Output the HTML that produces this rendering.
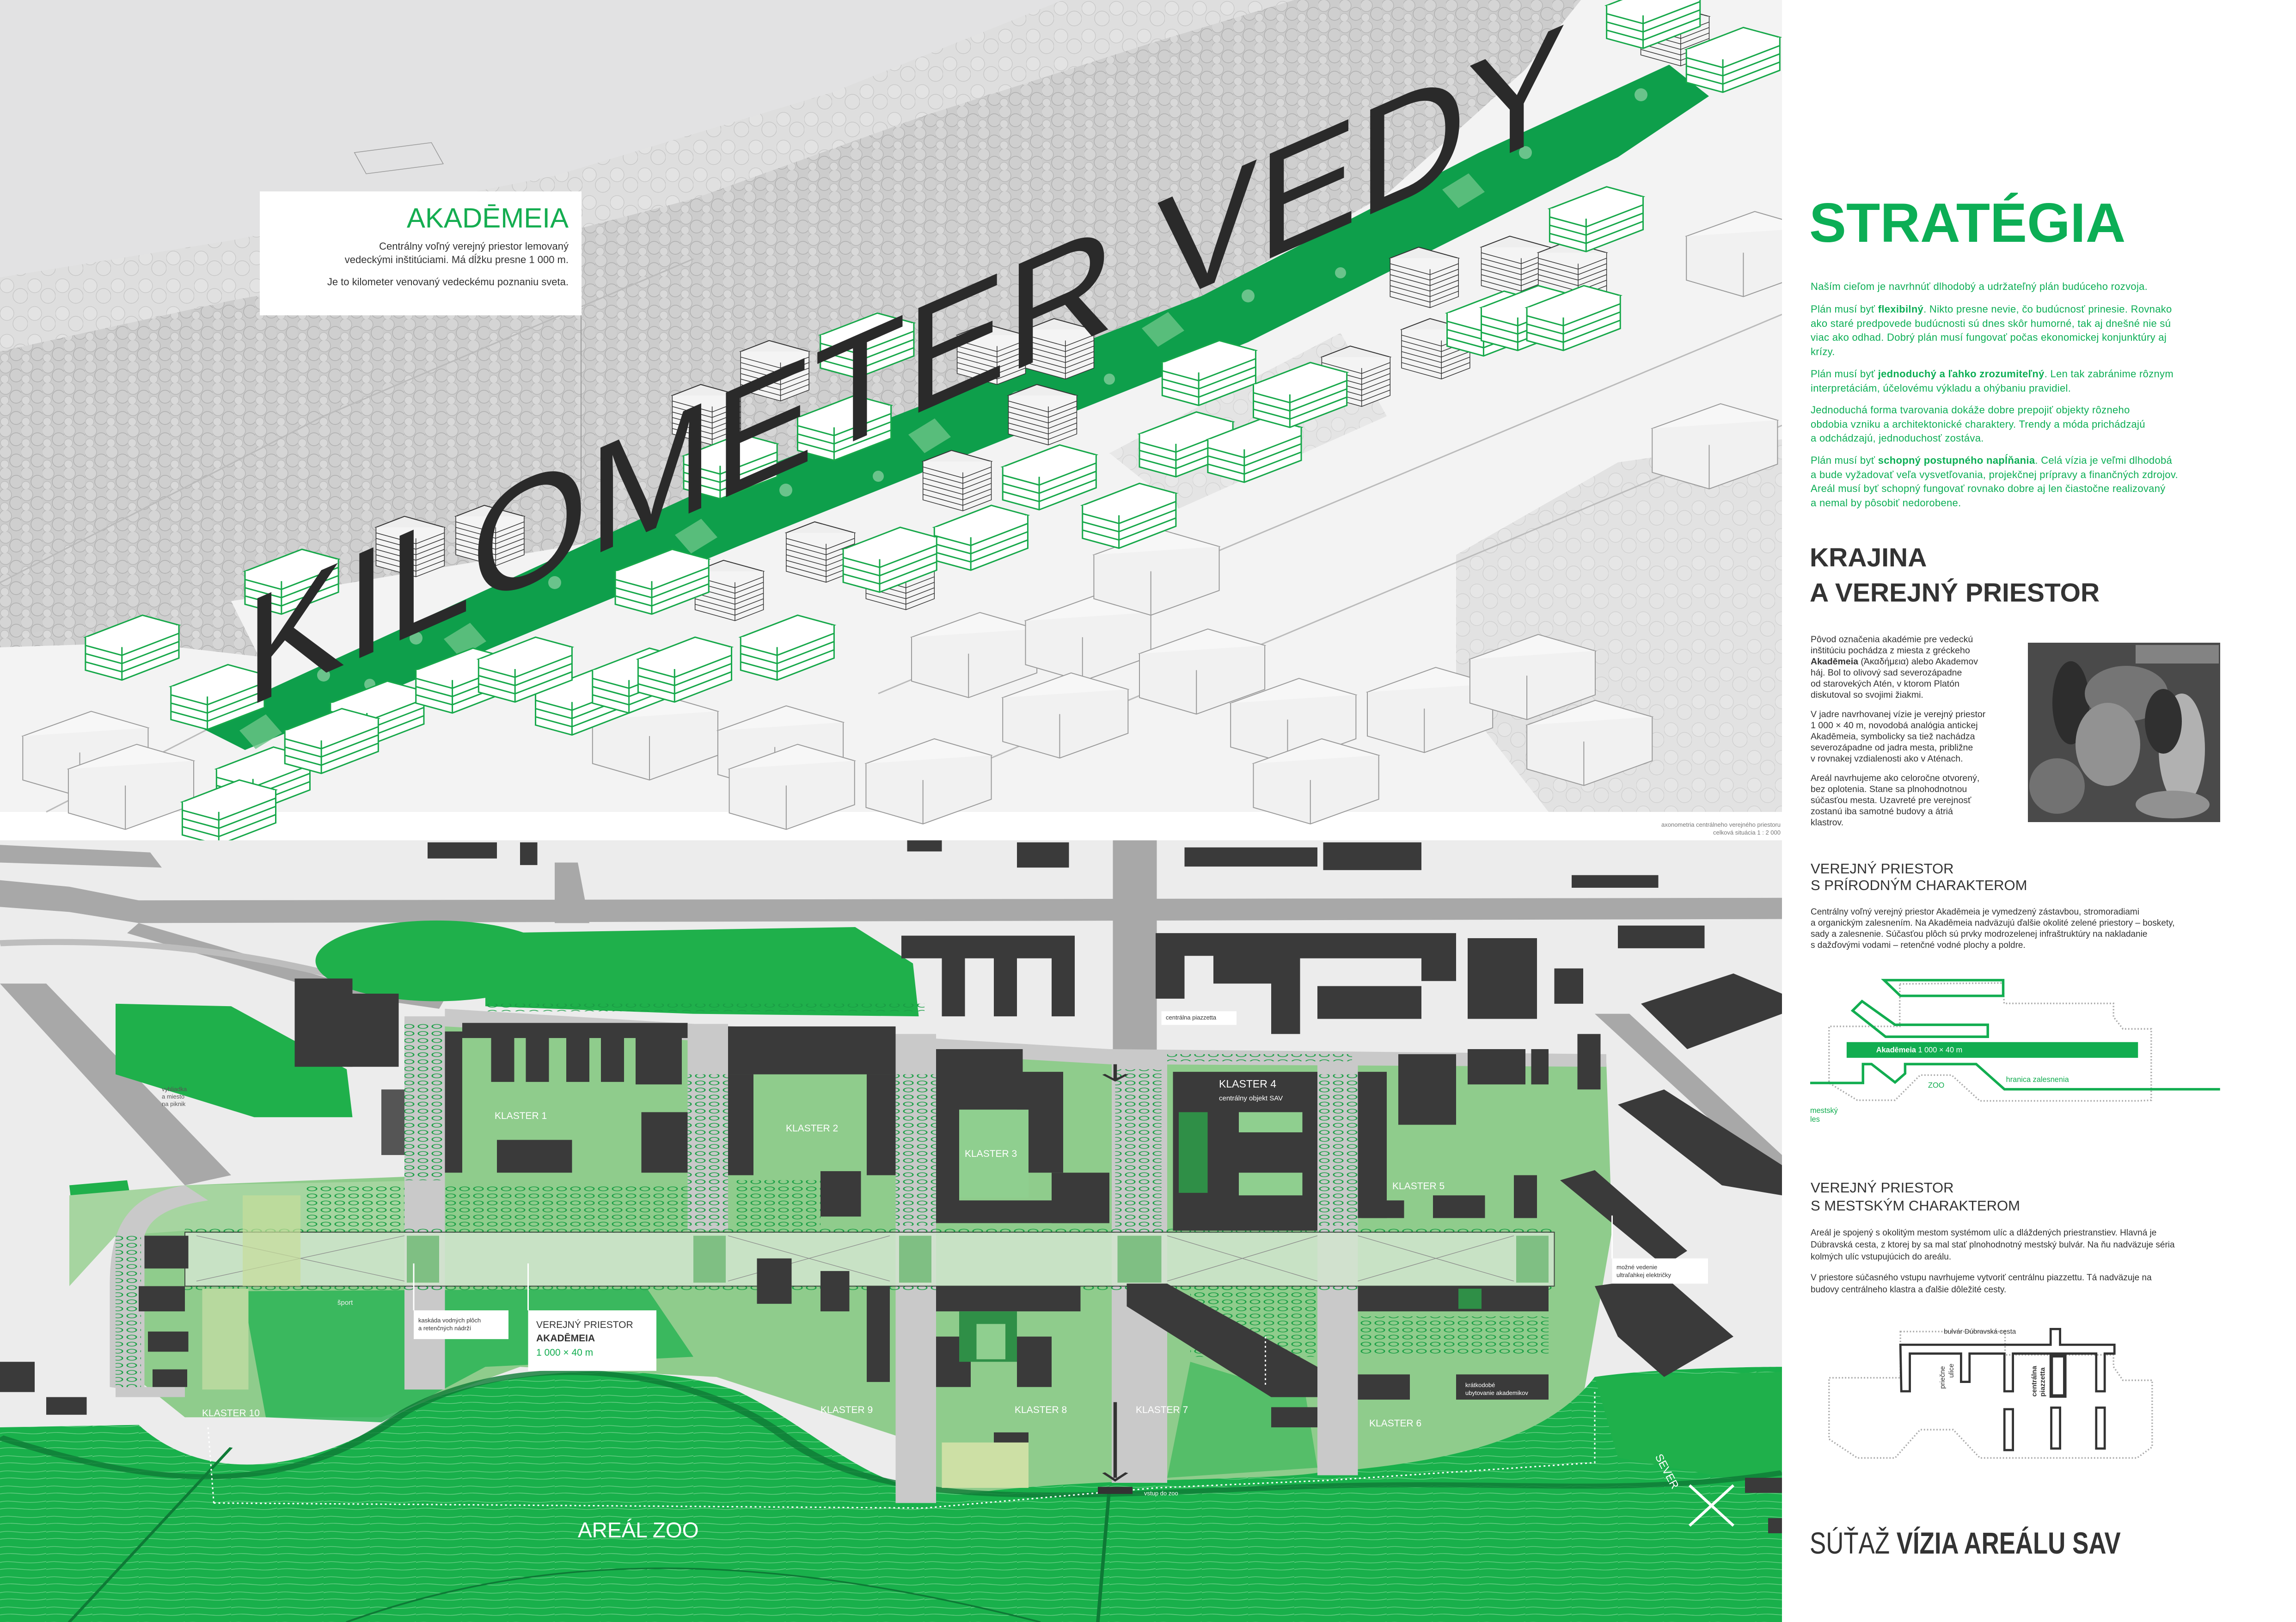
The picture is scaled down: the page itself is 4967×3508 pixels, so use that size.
<!DOCTYPE html>
<html><head><meta charset="utf-8">
<style>
*{margin:0;padding:0;box-sizing:border-box}
body{width:4967px;height:3508px;position:relative;background:#fff;font-family:"Liberation Sans",sans-serif;overflow:hidden}
.a{position:absolute;white-space:nowrap}
.g{color:#0cae55}
.sb{font-size:22px;line-height:30.5px;letter-spacing:0.3px}
.kb{font-size:19.5px;line-height:24px;color:#333}
.mb{font-size:19px;line-height:24px;color:#333}
svg{position:absolute;left:0;top:0}
</style></head><body>

<svg width="4967" height="3508" viewBox="0 0 4967 3508">
<defs>
<pattern id="fr" width="46" height="46" patternUnits="userSpaceOnUse">
<rect width="46" height="46" fill="#c9c9c9"/>
<circle cx="12" cy="12" r="13" fill="#d3d3d3" stroke="#b2b2b2" stroke-width="1.5"/>
<circle cx="35" cy="30" r="14" fill="#cdcdcd" stroke="#a9a9a9" stroke-width="1.5"/>
<circle cx="10" cy="38" r="9" fill="#d8d8d8" stroke="#b5b5b5" stroke-width="1.2"/>
</pattern>
<pattern id="fr2" width="60" height="60" patternUnits="userSpaceOnUse">
<rect width="60" height="60" fill="#dedede"/>
<circle cx="15" cy="18" r="15" fill="#e3e3e3" stroke="#c6c6c6" stroke-width="1.2"/>
<circle cx="44" cy="40" r="16" fill="#e0e0e0" stroke="#c3c3c3" stroke-width="1.2"/>
</pattern>
<pattern id="tc" width="12" height="14" patternUnits="userSpaceOnUse">
<circle cx="6" cy="7" r="4" fill="none" stroke="#1a9e45" stroke-width="1.2"/>
</pattern>
<pattern id="ct" width="40" height="30" patternUnits="userSpaceOnUse">
<rect width="40" height="30" fill="#19b04b"/>
<path d="M0,8 C10,2 20,14 40,6 M0,22 C14,16 26,28 40,20" stroke="#6fd08a" stroke-width="1.2" fill="none"/>
</pattern>
<symbol id="gb" overflow="visible">
<path d="M0,0 L50,-40 L82,-22 L32,18 Z" fill="#fff" stroke="#17a84a" stroke-width="3" vector-effect="non-scaling-stroke"/>
<path d="M0,0 V60 L32,78 L82,38 V-22 M32,18 V78 M0,15 L32,33 L82,-7 M0,30 L32,48 L82,8 M0,45 L32,63 L82,23" fill="#fff" stroke="#17a84a" stroke-width="3" vector-effect="non-scaling-stroke"/>
</symbol>
<symbol id="wb" overflow="visible">
<path d="M0,0 L60,-45 L110,-15 L50,30 Z" fill="#f7f7f7" stroke="#9a9a9a" stroke-width="2" vector-effect="non-scaling-stroke"/>
<path d="M0,0 V80 L50,110 L110,65 V-15 M50,30 V110" fill="#f1f1f1" stroke="#9a9a9a" stroke-width="2" vector-effect="non-scaling-stroke"/>
</symbol>
<symbol id="bb" overflow="visible">
<path d="M0,0 L25,-20 L60,0 L35,20 Z" fill="#eee" stroke="#333" stroke-width="2" vector-effect="non-scaling-stroke"/>
<path d="M0,0 V70 L35,90 L60,70 V0 M35,20 V90 M0,10 L35,30 L60,10 M0,20 L35,40 L60,20 M0,30 L35,50 L60,30 M0,40 L35,60 L60,40 M0,50 L35,70 L60,50 M0,60 L35,80 L60,60" fill="#f4f4f4" stroke="#333" stroke-width="1.5" vector-effect="non-scaling-stroke"/>
</symbol>
</defs>

<!-- ============ TOP AXONOMETRY ============ -->
<rect x="0" y="0" width="3855" height="1756" fill="#f3f3f3"/>
<polygon points="0,0 3420,0 3300,150 3000,420 2500,700 1900,1000 1300,1170 700,1260 300,1330 0,1380" fill="#e2e2e3"/>
<polygon points="0,760 500,650 1000,560 1500,430 2000,250 2500,90 2800,0 3420,0 3300,150 3000,420 2500,700 1900,1000 1300,1170 700,1270 500,1300 560,1420 300,1390 0,1400" fill="url(#fr)" opacity="0.9"/>
<polygon points="0,760 500,650 1000,560 1500,430 2000,250 2500,90 2800,0 2300,0 1800,200 1200,380 500,520 0,600" fill="url(#fr2)"/>
<polygon points="3150,1200 3500,1000 3855,950 3855,1756 3350,1756 3150,1500" fill="url(#fr2)" opacity="0.8"/>
<polygon points="2400,980 2900,720 3000,900 2550,1100" fill="url(#fr2)" opacity="0.7"/>
<path d="M0,1260 L700,900 L1500,560 M1900,1500 L3855,680 M2000,1700 L3855,920 M100,1756 L600,1500" stroke="#bbb" stroke-width="3" fill="none"/>
<polygon points="419,1566 1500,1070 2600,640 3200,330 3611,140 3697,208 3500,340 2700,740 1600,1180 530,1622" fill="#0e9f4b"/>
<g fill="#6cc487" opacity="0.8">
<polygon points="518,1580 575,1545 610,1585 553,1620"/>
<polygon points="960,1382 1017,1347 1052,1387 995,1422"/>
<polygon points="1460,1157 1517,1122 1552,1162 1495,1197"/>
<polygon points="1965,940 2022,905 2057,945 2000,980"/>
<polygon points="2470,710 2527,675 2562,715 2505,750"/>
<polygon points="3120,410 3177,375 3212,415 3155,450"/>
</g>
<g fill="#a8dcb6" opacity="0.6">
<circle cx="700" cy="1460" r="14"/><circle cx="900" cy="1380" r="14"/><circle cx="1200" cy="1260" r="14"/><circle cx="1700" cy="1060" r="14"/><circle cx="2200" cy="860" r="14"/><circle cx="2700" cy="640" r="14"/><circle cx="3300" cy="330" r="14"/><circle cx="3550" cy="205" r="14"/>
<circle cx="800" cy="1480" r="12"/><circle cx="1400" cy="1230" r="12"/><circle cx="1900" cy="1030" r="12"/><circle cx="2400" cy="820" r="12"/><circle cx="2900" cy="590" r="12"/>
</g>
<g transform="matrix(2.465,0,0,1.188,0,0)">
<use href="#wb" x="520" y="1310"/><use href="#wb" x="630" y="1330"/><use href="#wb" x="800" y="1160"/><use href="#wb" x="900" y="1130"/><use href="#wb" x="1000" y="1190"/><use href="#wb" x="1080" y="1280"/><use href="#wb" x="1200" y="1260"/><use href="#wb" x="1290" y="1200"/><use href="#wb" x="1340" y="1320"/><use href="#wb" x="640" y="1400"/><use href="#wb" x="760" y="1390"/><use href="#wb" x="1100" y="1390"/><use href="#wb" x="880" y="1270"/><use href="#wb" x="960" y="1010"/><use href="#wb" x="1450" y="780"/><use href="#wb" x="20" y="1340"/><use href="#wb" x="60" y="1400"/><use href="#wb" x="1480" y="430"/>
<use href="#bb" x="650" y="640"/><use href="#bb" x="590" y="720"/><use href="#bb" x="840" y="610"/><use href="#bb" x="900" y="600"/><use href="#bb" x="1220" y="470"/><use href="#bb" x="1300" y="450"/><use href="#bb" x="1160" y="650"/><use href="#bb" x="1230" y="600"/><use href="#bb" x="1350" y="460"/><use href="#bb" x="885" y="720"/><use href="#bb" x="810" y="840"/><use href="#bb" x="610" y="1040"/><use href="#bb" x="690" y="970"/><use href="#bb" x="760" y="1020"/><use href="#bb" x="1440" y="30"/><use href="#bb" x="330" y="960"/><use href="#bb" x="400" y="940"/>
<use href="#gb" x="75" y="1160"/><use href="#gb" x="150" y="1250"/><use href="#gb" x="215" y="1040"/><use href="#gb" x="290" y="1280"/><use href="#gb" x="365" y="1220"/><use href="#gb" x="470" y="1260"/><use href="#gb" x="520" y="1220"/><use href="#gb" x="190" y="1400"/><use href="#gb" x="250" y="1330"/><use href="#gb" x="600" y="830"/><use href="#gb" x="720" y="610"/><use href="#gb" x="700" y="760"/><use href="#gb" x="880" y="850"/><use href="#gb" x="950" y="920"/><use href="#gb" x="820" y="960"/><use href="#gb" x="1000" y="790"/><use href="#gb" x="1020" y="660"/><use href="#gb" x="1060" y="800"/><use href="#gb" x="1270" y="570"/><use href="#gb" x="1300" y="560"/><use href="#gb" x="1340" y="560"/><use href="#gb" x="1360" y="380"/><use href="#gb" x="1410" y="10"/><use href="#gb" x="1480" y="90"/><use href="#gb" x="560" y="1200"/><use href="#gb" x="650" y="1160"/><use href="#gb" x="740" y="1000"/><use href="#gb" x="1100" y="700"/><use href="#gb" x="540" y="1040"/><use href="#gb" x="420" y="1200"/><use href="#gb" x="160" y="1460"/>
<rect x="315" y="268" width="70" height="40" fill="none" stroke="#999" stroke-width="1.5" vector-effect="non-scaling-stroke" transform="rotate(-15 350 288)"/>
</g>
<!-- KILOMETER VEDY -->
<g transform="translate(530,1532) skewY(-23.7) scale(1,2.35)">
<text x="0" y="0" font-family="Liberation Sans, sans-serif" font-size="140" fill="#2a2a2a" textLength="2860" lengthAdjust="spacingAndGlyphs">KILOMETER VEDY</text>
</g>
<!-- AKADEMEIA box -->
<rect x="562" y="414" width="696" height="268" fill="#fff"/>
<line x1="1257" y1="682" x2="1257" y2="1080" stroke="#999" stroke-width="2"/>
<text x="1230" y="492" text-anchor="end" font-size="60" fill="#14ad50" font-family="Liberation Sans, sans-serif">AKADĒMEIA</text>
<text x="1230" y="540" text-anchor="end" font-size="22" fill="#333" font-family="Liberation Sans, sans-serif">Centrálny voľný verejný priestor lemovaný</text>
<text x="1230" y="569" text-anchor="end" font-size="22" fill="#333" font-family="Liberation Sans, sans-serif">vedeckými inštitúciami. Má dĺžku presne 1 000 m.</text>
<text x="1230" y="617" text-anchor="end" font-size="22" fill="#333" font-family="Liberation Sans, sans-serif">Je to kilometer venovaný vedeckému poznaniu sveta.</text>
<text x="3852" y="1788" text-anchor="end" font-size="13" fill="#777" font-family="Liberation Sans, sans-serif">axonometria centrálneho verejného priestoru</text>
<text x="3852" y="1805" text-anchor="end" font-size="13" fill="#777" font-family="Liberation Sans, sans-serif">celková situácia 1 : 2 000</text>

<!-- ============ PLAN ============ -->
<g transform="matrix(2.5,0,0,1.0907,0,1800)">
<rect x="0" y="16" width="1542" height="1550" fill="#ececec"/>
<g fill="#a8a8a8">
<polygon points="0,95 60,108 120,135 1542,130 1542,172 120,180 60,158 0,148"/>
<polygon points="0,25 130,40 140,70 0,60"/>
<polygon points="120,180 300,300 385,330 380,350 290,320 110,200"/>
<polygon points="0,300 40,300 200,680 160,700"/>
<rect x="963" y="16" width="38" height="440"/>
<polygon points="1380,360 1410,360 1542,640 1542,700"/>
<polygon points="480,60 500,60 510,180 480,180"/>
</g>
<path d="M0,220 C100,210 200,230 300,290" stroke="#bdbdbd" stroke-width="12" fill="none"/>
<g fill="#1fb04b">
<ellipse cx="378" cy="255" rx="105" ry="80"/>
<polygon points="420,200 740,188 790,260 795,365 600,360 420,345"/>
<polygon points="100,340 200,345 300,470 305,565 220,565 100,480"/>
<polygon points="60,700 110,690 120,800 65,800"/>
</g>
<polygon points="385,365 960,440 1390,455 1395,790 1360,1250 1150,1280 1000,1300 800,1330 780,1200 620,1080 450,1060 330,1160 160,1160 100,1050 100,790 160,700 385,680" fill="#8fcc8c"/>
<polygon points="60,720 160,700 385,690 385,790 160,790 100,800 60,900" fill="#a6d5a0"/>
<path d="M0,1180 L120,1175 C170,1280 250,1280 330,1175 C400,1060 560,1040 640,1110 C720,1200 760,1340 860,1305 C960,1280 1100,1285 1140,1270 C1260,1250 1340,1200 1380,1080 C1440,1060 1542,1060 1542,1060 L1542,1566 L0,1566 Z" fill="url(#ct)"/>
<path d="M210,910 L560,905 L600,1040 L420,1060 L330,1170 L230,1160 Z" fill="#2bb456" opacity="0.85"/>
<path d="M1030,1050 L1130,1120 L1140,1260 L1010,1280 Z" fill="#3cb85a" opacity="0.7"/>
<path d="M1380,1080 L1542,1070 L1542,1300 L1400,1240 Z" fill="#1fb04b"/>
<path d="M0,1200 C160,1320 260,1300 350,1150 C450,1020 600,1060 680,1200 C760,1340 900,1320 1100,1300 C1300,1280 1400,1320 1542,1270" stroke="#0e7a36" stroke-width="10" fill="none" opacity="0.8"/>
<path d="M60,1566 L200,1220 M950,1566 L960,1300 M300,1566 C500,1400 700,1450 900,1566" stroke="#0e7a36" stroke-width="3" fill="none"/>
<g fill="#c9c9c9">
<polygon points="385,350 960,430 1390,440 1390,465 960,460 385,385"/>
<rect x="350" y="365" width="35" height="740"/>
<rect x="595" y="380" width="35" height="410"/>
<rect x="775" y="400" width="35" height="930"/>
<rect x="962" y="440" width="48" height="850"/>
<rect x="1140" y="455" width="35" height="820"/>
<path d="M160,700 C110,720 95,780 95,900 L95,1100 L125,1110 L125,800 C130,760 150,740 180,730 Z"/>
<rect x="100" y="1100" width="60" height="20"/>
</g>
<g fill="url(#tc)">
<rect x="265" y="700" width="85" height="85"/><rect x="385" y="700" width="210" height="85"/><rect x="635" y="690" width="75" height="95"/>
<rect x="350" y="380" width="35" height="310"/><rect x="595" y="480" width="35" height="300"/><rect x="775" y="480" width="35" height="300"/><rect x="965" y="470" width="40" height="320"/><rect x="1140" y="480" width="35" height="300"/>
<rect x="1030" y="900" width="110" height="140"/><rect x="1175" y="960" width="165" height="75"/><rect x="100" y="800" width="22" height="300"/>
<rect x="420" y="340" width="380" height="15"/><rect x="1010" y="440" width="160" height="14"/>
<rect x="160" y="785" width="1185" height="10"/><rect x="160" y="900" width="1185" height="10"/>
</g>
<rect x="160" y="793" width="1185" height="107" fill="#d3e6cf" opacity="0.85" stroke="#333" stroke-width="2" vector-effect="non-scaling-stroke"/>
<g stroke="#888" stroke-width="1" fill="none" vector-effect="non-scaling-stroke">
<path d="M170,800 L350,890 M170,890 L350,800 M630,800 L770,890 M630,890 L770,800 M1010,800 L1140,890 M1010,890 L1140,800 M1175,800 L1310,890 M1175,890 L1310,800"/>
</g>
<g fill="#7fbf83"><rect x="352" y="800" width="28" height="93"/><rect x="600" y="800" width="28" height="93"/><rect x="778" y="800" width="28" height="93"/><rect x="967" y="800" width="38" height="93"/><rect x="1312" y="800" width="28" height="93"/></g>
<g fill="#3a3a3a">
<rect x="385" y="395" width="15" height="280"/><rect x="400" y="378" width="195" height="30"/>
<rect x="425" y="400" width="20" height="95"/><rect x="455" y="400" width="20" height="95"/><rect x="490" y="400" width="20" height="95"/><rect x="520" y="380" width="20" height="115"/><rect x="550" y="380" width="40" height="120"/>
<rect x="430" y="610" width="65" height="65"/><rect x="555" y="555" width="40" height="120"/>
<rect x="630" y="385" width="145" height="95"/><rect x="630" y="480" width="22" height="200"/><rect x="750" y="480" width="25" height="200"/><rect x="710" y="672" width="35" height="90"/>
<rect x="810" y="430" width="75" height="120"/><rect x="810" y="545" width="20" height="200"/><rect x="880" y="475" width="40" height="200"/><rect x="910" y="675" width="50" height="100"/><rect x="810" y="730" width="150" height="45"/>
<rect x="1015" y="475" width="125" height="315"/>
<rect x="1175" y="475" width="25" height="290"/><rect x="1178" y="730" width="37" height="35"/><rect x="1240" y="720" width="45" height="45"/><rect x="1310" y="680" width="20" height="85"/>
<path d="M780,205 H930 V365 H910 V250 H880 V365 H860 V250 H835 V365 H815 V250 H780 Z"/>
<path d="M1000,200 H1260 V295 H1230 V250 H1125 V400 H1100 V300 H1050 V245 H1025 V330 H1000 Z"/>
<rect x="1140" y="305" width="90" height="65"/>
<rect x="1270" y="210" width="60" height="160"/><rect x="1345" y="270" width="25" height="70"/><rect x="1400" y="185" width="75" height="45"/><rect x="1360" y="85" width="75" height="25"/>
<rect x="880" y="20" width="45" height="50"/><rect x="370" y="20" width="60" height="32"/><rect x="450" y="20" width="15" height="45"/><rect x="785" y="16" width="30" height="22"/><rect x="1025" y="30" width="115" height="38"/><rect x="1145" y="20" width="85" height="55"/>
<rect x="255" y="290" width="50" height="175"/><rect x="300" y="320" width="45" height="145"/>
<rect x="1210" y="440" width="50" height="140"/><rect x="1270" y="430" width="50" height="70"/><rect x="1325" y="430" width="15" height="70"/><rect x="1365" y="400" width="20" height="110"/>
<polygon points="1420,340 1500,280 1542,320 1542,360 1460,430"/>
<polygon points="1400,540 1440,510 1542,660 1542,720 1490,700"/>
<polygon points="1350,690 1380,670 1460,830 1440,860"/>
<polygon points="1380,900 1440,880 1500,1000 1440,1080 1400,1000"/>
<rect x="1510" y="1280" width="32" height="30"/><rect x="1530" y="1360" width="12" height="30"/>
<rect x="125" y="800" width="38" height="65"/><rect x="120" y="900" width="40" height="50"/><rect x="128" y="990" width="35" height="40"/><rect x="132" y="1065" width="30" height="35"/>
<rect x="655" y="845" width="30" height="90"/><rect x="710" y="870" width="25" height="80"/><rect x="750" y="900" width="20" height="190"/>
<rect x="810" y="900" width="125" height="50"/><rect x="810" y="1000" width="30" height="100"/><rect x="880" y="1000" width="30" height="100"/><rect x="860" y="1190" width="30" height="80"/>
<polygon points="975,895 1010,895 1140,1060 1140,1120 1100,1120 975,940"/>
<rect x="1100" y="1140" width="40" height="40"/>
<rect x="1175" y="900" width="165" height="50"/><rect x="1175" y="1075" width="45" height="50"/><rect x="1260" y="1075" width="80" height="50"/>
<rect x="40" y="1120" width="35" height="35"/><rect x="0" y="1050" width="30" height="60"/>
</g>
<rect x="330" y="510" width="20" height="130" fill="#555"/>
<g fill="#2f8f47"><rect x="830" y="950" width="50" height="100"/><rect x="1020" y="555" width="25" height="160"/><rect x="1262" y="905" width="20" height="40"/></g>
<g fill="#8fcf8f"><rect x="1072" y="555" width="55" height="40"/><rect x="1072" y="675" width="55" height="45"/><rect x="830" y="550" width="60" height="175"/><rect x="845" y="975" width="25" height="70"/></g>
<rect x="175" y="905" width="40" height="200" fill="#b7d99e"/>
<rect x="815" y="1210" width="75" height="90" fill="#cde0a5"/>
<rect x="210" y="720" width="50" height="180" fill="#c6dd9a" opacity="0.7"/>
<path d="M185,1330 L180,1180 M185,1330 L800,1340 L1000,1300 L1150,1285 L1380,1250 L1380,1110 M1095,1000 L1095,1100" stroke="#fff" stroke-width="3" stroke-dasharray="4,6" fill="none" vector-effect="non-scaling-stroke"/>
<rect x="358" y="948" width="82" height="57" fill="#fff"/>
<rect x="457" y="948" width="111" height="120" fill="#fff"/>
<line x1="358" y1="855" x2="358" y2="948" stroke="#fff" stroke-width="3" vector-effect="non-scaling-stroke"/>
<line x1="457" y1="855" x2="457" y2="948" stroke="#fff" stroke-width="3" vector-effect="non-scaling-stroke"/>
<rect x="1005" y="355" width="65" height="27" fill="#fff"/>
<rect x="1395" y="845" width="83" height="50" fill="#fff"/>
<line x1="1395" y1="760" x2="1395" y2="845" stroke="#fff" stroke-width="3" vector-effect="non-scaling-stroke"/>
<g stroke="#333" stroke-width="3" vector-effect="non-scaling-stroke" fill="none">
<path d="M965,460 V490 M955,480 L965,492 L975,480"/>
<path d="M965,1130 V1280 M955,1270 L965,1285 L975,1270"/>
</g>
<rect x="950" y="1298" width="30" height="14" fill="#333"/>
<path d="M1462,1295 L1500,1375 M1500,1295 L1462,1375" stroke="#fff" stroke-width="6" vector-effect="non-scaling-stroke"/>
</g>
<g font-family="Liberation Sans, sans-serif" fill="#fff" font-size="21">
<text x="1070" y="2420">KLASTER 1</text>
<text x="1700" y="2447">KLASTER 2</text>
<text x="2087" y="2502">KLASTER 3</text>
<text x="2637" y="2352" font-size="23">KLASTER 4</text>
<text x="2637" y="2380" font-size="15">centrálny objekt SAV</text>
<text x="3012" y="2572">KLASTER 5</text>
<text x="437" y="3063">KLASTER 10</text>
<text x="1775" y="3056">KLASTER 9</text>
<text x="2195" y="3056">KLASTER 8</text>
<text x="2457" y="3056">KLASTER 7</text>
<text x="2962" y="3085">KLASTER 6</text>
<text x="1250" y="3325" font-size="46">AREÁL ZOO</text>
<text x="730" y="2822" font-size="15" fill="#eee">šport</text>
<text x="3580" y="3150" font-size="24" transform="rotate(62 3580 3150)">SEVER</text>
<text x="3170" y="3000" font-size="13">krátkodobé</text>
<text x="3170" y="3017" font-size="13">ubytovanie akademikov</text>
</g>
<g font-family="Liberation Sans, sans-serif" fill="#333" font-size="13">
<text x="905" y="2860">kaskáda vodných plôch</text>
<text x="905" y="2877">a retenčných nádrží</text>
<text x="2522" y="2205">centrálna piazzetta</text>
<text x="3497" y="2745">možné vedenie</text>
<text x="3497" y="2762">ultraľahkej električky</text>
<text x="2475" y="3234" fill="#fff">vstup do zoo</text>
<text x="350" y="2360" fill="#555">vyhliadka</text>
<text x="350" y="2376" fill="#555">a miesto</text>
<text x="350" y="2392" fill="#555">na piknik</text>
</g>
<g font-family="Liberation Sans, sans-serif" font-size="21">
<text x="1160" y="2872" fill="#333">VEREJNÝ PRIESTOR</text>
<text x="1160" y="2901" fill="#333" font-weight="bold">AKADĒMEIA</text>
<text x="1160" y="2932" fill="#14ad50">1 000 × 40 m</text>
</g>

<!-- ============ RIGHT PANEL ============ -->
<rect x="3855" y="0" width="1112" height="3508" fill="#fff"/>
<rect x="4387" y="1390" width="416" height="388" fill="#4a4a4a"/>
<g opacity="0.9">
<ellipse cx="4480" cy="1520" rx="40" ry="90" fill="#2a2a2a"/>
<ellipse cx="4600" cy="1500" rx="90" ry="60" fill="#7a7a7a"/>
<ellipse cx="4560" cy="1610" rx="70" ry="90" fill="#9a9a9a"/>
<ellipse cx="4720" cy="1620" rx="50" ry="120" fill="#bdbdbd"/>
<ellipse cx="4680" cy="1560" rx="40" ry="70" fill="#2e2e2e"/>
<ellipse cx="4450" cy="1700" rx="60" ry="60" fill="#777"/>
<rect x="4620" y="1395" width="180" height="40" fill="#8a8a8a"/>
<ellipse cx="4700" cy="1740" rx="80" ry="30" fill="#999"/>
</g>
<g transform="translate(3916,1380) scale(0.68)" font-family="Liberation Sans, sans-serif">
<path d="M285,1100 L614,1097 L617,1162 L965,1162 L965,1205 L995,1243 L1085,1243 L1085,1470 L1040,1472 L540,1472 L450,1390 L350,1390 L270,1470 L150,1470 L60,1415 L60,1235 L285,1235 Z" fill="none" stroke="#aaa" stroke-width="5" stroke-dasharray="4,6"/>
<path d="M235,1088 L614,1088 L614,1138 L287,1138 Z" fill="none" stroke="#12ad50" stroke-width="8"/>
<path d="M135,1185 L165,1155 L270,1230 L565,1230 L565,1268 L240,1268 Z" fill="none" stroke="#12ad50" stroke-width="8"/>
<rect x="116" y="1285" width="927" height="50" fill="#12ad50"/>
<text x="210" y="1318" font-size="24" fill="#fff"><tspan font-weight="bold">Akadēmeia</tspan> 1 000 × 40 m</text>
<path d="M0,1415 L168,1415 L168,1355 L195,1355 L270,1413 L302,1385 L302,1355 L528,1355 L618,1435 L1304,1435" fill="none" stroke="#12ad50" stroke-width="8"/>
<text x="623" y="1412" font-size="24" fill="#12ad50">hranica zalesnenia</text>
<text x="375" y="1430" font-size="24" fill="#12ad50">ZOO</text>
<text x="0" y="1510" font-size="24" fill="#12ad50">mestský</text>
<text x="0" y="1538" font-size="24" fill="#12ad50">les</text>
</g>
<g transform="translate(3916,2480) scale(0.68)" font-family="Liberation Sans, sans-serif">
<path d="M287,588 L620,588 L620,662 L965,662 L965,700 L995,743 L1088,743 L1088,955 L1040,990 L540,990 L455,900 L350,900 L270,990 L150,990 L60,930 L60,735 L287,735 Z" fill="none" stroke="#aaa" stroke-width="5" stroke-dasharray="4,6"/>
<path d="M287,630 L765,630 L765,580 L795,580 L795,630 L968,630 L968,658 L937,658 L937,778 L910,778 L910,658 L645,658 L645,778 L618,778 L618,658 L507,658 L507,748 L480,748 L480,658 L317,658 L317,778 L290,778 Z" fill="none" stroke="#333" stroke-width="7"/>
<rect x="767" y="665" width="43" height="128" fill="none" stroke="#333" stroke-width="11"/>
<rect x="618" y="835" width="27" height="130" fill="none" stroke="#333" stroke-width="7"/>
<rect x="767" y="830" width="28" height="130" fill="none" stroke="#333" stroke-width="7"/>
<rect x="910" y="830" width="27" height="130" fill="none" stroke="#333" stroke-width="7"/>
<text x="425" y="595" font-size="22" fill="#333">bulvár Dúbravská cesta</text>
<text font-size="22" fill="#333" transform="translate(428,770) rotate(-90)">priečne</text>
<text font-size="22" fill="#333" transform="translate(456,735) rotate(-90)">ulice</text>
<text font-size="22" fill="#333" font-weight="bold" transform="translate(720,795) rotate(-90)">centrálna</text>
<text font-size="22" fill="#333" font-weight="bold" transform="translate(746,795) rotate(-90)">piazzetta</text>
</g>
</svg>

<div class="a g" style="left:3914px;top:422px;font-size:120px;line-height:120px;font-weight:bold">STRATÉGIA</div>
<div class="a g sb" style="left:3917px;top:605px">Naším cieľom je navrhnúť dlhodobý a udržateľný plán budúceho rozvoja.</div>
<div class="a g sb" style="left:3917px;top:654px">Plán musí byť <b>flexibilný</b>. Nikto presne nevie, čo budúcnosť prinesie. Rovnako<br>ako staré predpovede budúcnosti sú dnes skôr humorné, tak aj dnešné nie sú<br>viac ako odhad. Dobrý plán musí fungovať počas ekonomickej konjunktúry aj<br>krízy.</div>
<div class="a g sb" style="left:3917px;top:794px">Plán musí byť <b>jednoduchý a ľahko zrozumiteľný</b>. Len tak zabránime rôznym<br>interpretáciám, účelovému výkladu a ohýbaniu pravidiel.</div>
<div class="a g sb" style="left:3917px;top:872px">Jednoduchá forma tvarovania dokáže dobre prepojiť objekty rôzneho<br>obdobia vzniku a architektonické charaktery. Trendy a móda prichádzajú<br>a odchádzajú, jednoduchosť zostáva.</div>
<div class="a g sb" style="left:3917px;top:981px">Plán musí byť <b>schopný postupného napĺňania</b>. Celá vízia je veľmi dlhodobá<br>a bude vyžadovať veľa vysvetľovania, projekčnej prípravy a finančných zdrojov.<br>Areál musí byť schopný fungovať rovnako dobre aj len čiastočne realizovaný<br>a nemal by pôsobiť nedorobene.</div>

<div class="a" style="left:3915px;top:1168px;font-size:57px;line-height:76px;font-weight:bold;color:#333">KRAJINA<br>A VEREJNÝ PRIESTOR</div>

<div class="a kb" style="left:3917px;top:1371px">Pôvod označenia akadémie pre vedeckú<br>inštitúciu pochádza z miesta z gréckeho<br><b>Akadēmeia</b> (Ἀκαδήμεια) alebo Akademov<br>háj. Bol to olivový sad severozápadne<br>od starovekých Atén, v ktorom Platón<br>diskutoval so svojimi žiakmi.</div>
<div class="a kb" style="left:3917px;top:1533px">V jadre navrhovanej vízie je verejný priestor<br>1 000 × 40 m, novodobá analógia antickej<br>Akadēmeia, symbolicky sa tiež nachádza<br>severozápadne od jadra mesta, približne<br>v rovnakej vzdialenosti ako v Aténach.</div>
<div class="a kb" style="left:3917px;top:1671px">Areál navrhujeme ako celoročne otvorený,<br>bez oplotenia. Stane sa plnohodnotnou<br>súčasťou mesta. Uzavreté pre verejnosť<br>zostanú iba samotné budovy a átriá<br>klastrov.</div>

<div class="a" style="left:3917px;top:1861px;font-size:31px;line-height:36px;color:#333">VEREJNÝ PRIESTOR<br>S PRÍRODNÝM CHARAKTEROM</div>
<div class="a mb" style="left:3917px;top:1961px">Centrálny voľný verejný priestor Akadēmeia je vymedzený zástavbou, stromoradiami<br>a organickým zalesnením. Na Akadēmeia nadväzujú ďalšie okolité zelené priestory – boskety,<br>sady a zalesnenie. Súčasťou plôch sú prvky modrozelenej infraštruktúry na nakladanie<br>s dažďovými vodami – retenčné vodné plochy a poldre.</div>

<div class="a" style="left:3917px;top:2549px;font-size:31px;line-height:39px;color:#333">VEREJNÝ PRIESTOR<br>S MESTSKÝM CHARAKTEROM</div>
<div class="a mb" style="left:3917px;top:2654px;line-height:26px">Areál je spojený s okolitým mestom systémom ulíc a dláždených priestranstiev. Hlavná je<br>Dúbravská cesta, z ktorej by sa mal stať plnohodnotný mestský bulvár. Na ňu nadväzuje séria<br>kolmých ulíc vstupujúcich do areálu.</div>
<div class="a mb" style="left:3917px;top:2751px;line-height:26px">V priestore súčasného vstupu navrhujeme vytvoriť centrálnu piazzettu. Tá nadväzuje na<br>budovy centrálneho klastra a ďalšie dôležité cesty.</div>

<div class="a" style="left:3915px;top:3300px;font-size:66px;line-height:74px;color:#333;transform:scaleX(0.8);transform-origin:left top">SÚŤAŽ <b>VÍZIA AREÁLU SAV</b></div>
</body></html>
